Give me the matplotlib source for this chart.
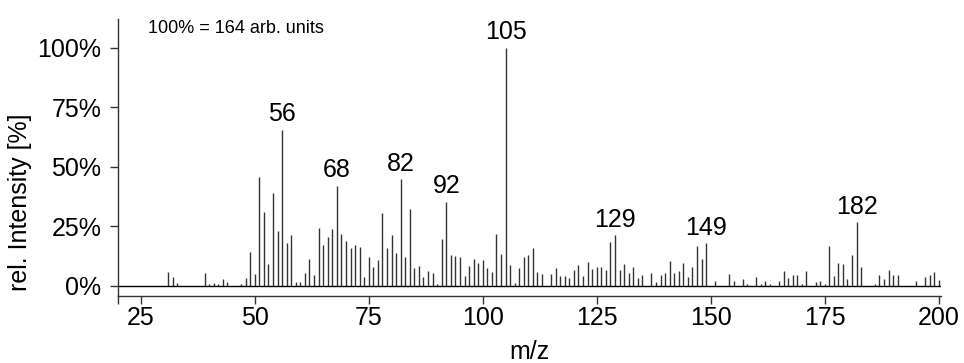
import numpy as np
import matplotlib
matplotlib.use('Agg')
import matplotlib.pyplot as plt

plt.rcParams['font.family'] = ['Liberation Sans', 'DejaVu Sans']

# m/z values and relative intensities (% of base peak)
mz = [31, 32, 33, 39, 40, 41, 42, 43, 44, 47, 48, 49, 50,
      51, 52, 53, 54, 55, 56, 57, 58, 59, 60, 61, 62, 63, 64, 65, 66, 67, 68,
      69, 70, 71, 72, 73, 74, 75, 76, 77, 78, 79, 80, 81, 82, 83, 84, 85, 86,
      87, 88, 89, 90, 91, 92, 93, 94, 95, 96, 97, 98, 99, 100, 101, 102, 103,
      104, 105, 106, 107, 108, 109, 110, 111, 112, 113, 115, 116, 117, 118,
      119, 120, 121, 122, 123, 124, 125, 126, 127, 128, 129, 130, 131, 132,
      133, 134, 135, 137, 138, 139, 140, 141, 142, 143, 144, 145, 146, 147,
      148, 149, 151, 154, 155, 157, 158, 160, 161, 162, 163, 165, 166, 167,
      168, 169, 170, 171, 173, 174, 175, 176, 177, 178, 179, 180, 181, 182,
      183, 186, 187, 188, 189, 190, 191, 195, 197, 198, 199, 200]
rel_int = [5.7, 3.6, 1.2, 5.3, 0.8, 1.3, 0.8, 2.8, 1.5, 0.7, 3.2, 14.1, 4.9,
           45.9, 31.0, 9.2, 39.1, 23.1, 65.5, 17.9, 21.4, 1.5, 1.5, 5.3, 11.3,
           4.5, 24.4, 17.1, 20.7, 23.9, 42.0,
           21.6, 18.8, 15.8, 17.1, 16.5, 3.8, 12.3, 8.1, 10.9, 30.6, 15.8, 21.4,
           13.7, 44.8, 12.1, 32.2, 7.6, 8.4,
           3.7, 6.4, 5.3, 0.7, 19.9, 35.3, 12.9, 12.5, 12.1, 4.1, 8.4, 11.3, 9.5,
           10.9, 7.4, 5.7, 21.6,
           13.4, 100.0, 8.8, 1.1, 7.7, 12.1, 12.9, 15.8, 5.7, 5.2, 5.2, 7.7, 4.1,
           4.1,
           3.2, 6.6, 8.8, 4.1, 10.1, 7.0, 8.1, 8.1, 6.9, 18.4, 21.3, 6.5, 9.3,
           5.5,
           8.1, 3.2, 4.5, 5.3, 1.5, 4.5, 5.3, 10.5, 5.3, 6.4, 9.7, 3.7, 8.1, 16.7,
           11.3, 17.9, 2.1, 4.9, 2.1, 2.8, 0.8, 3.8, 0.8, 2.1, 0.7, 2.1, 6.2, 3.3,
           4.5, 4.5, 0.7, 6.2, 1.7, 2.1, 0.7, 16.7, 4.1, 9.8, 9.4, 2.9, 13.0, 26.8,
           8.1, 0.7, 4.5, 2.9, 6.6, 4.5, 4.5, 2.1, 3.7, 4.5, 5.7, 2.5]

labelled = [56, 68, 82, 92, 105, 129, 149, 182]
base_peak = 164  # arb. units

fig = plt.figure(figsize=(9.64, 3.63), dpi=100)
ax = fig.add_axes([0.1224, 0.1846, 0.8537, 0.7631])

ax.vlines(mz, 0, rel_int, color='#333333', lw=1.0)
ax.axhline(0, color='black', lw=1.0)

for m in labelled:
    h = rel_int[mz.index(m)]
    ax.text(m, h + 1.5, str(m), ha='center', va='bottom', fontsize=18)

ax.text(0.036, 0.965, f'100% = {base_peak} arb. units', transform=ax.transAxes,
        ha='left', va='center', fontsize=13)

ax.set_xlim(20, 200.5)
ax.set_ylim(-4.2, 112)
ax.set_xticks(np.arange(25, 201, 25))
ax.set_xticks([20], minor=True)
ax.set_yticks([0, 25, 50, 75, 100])
ax.set_yticklabels(['0%', '25%', '50%', '75%', '100%'])
ax.tick_params(which='both', direction='out', length=6, width=1,
               color='#333333', labelsize=18)
ax.tick_params(axis='x', pad=1.5)
ax.tick_params(axis='y', pad=6)

for side in ['top', 'right']:
    ax.spines[side].set_visible(False)
for side in ['left', 'bottom']:
    ax.spines[side].set_color('#333333')
    ax.spines[side].set_linewidth(1.0)

ax.set_xlabel('m/z', fontsize=18)
ax.set_ylabel('rel. Intensity [%]', fontsize=18)
ax.xaxis.set_label_coords(0.5, -0.16)
ax.yaxis.set_label_coords(-0.105, 0.34)

fig.savefig('out.png', dpi=100)
